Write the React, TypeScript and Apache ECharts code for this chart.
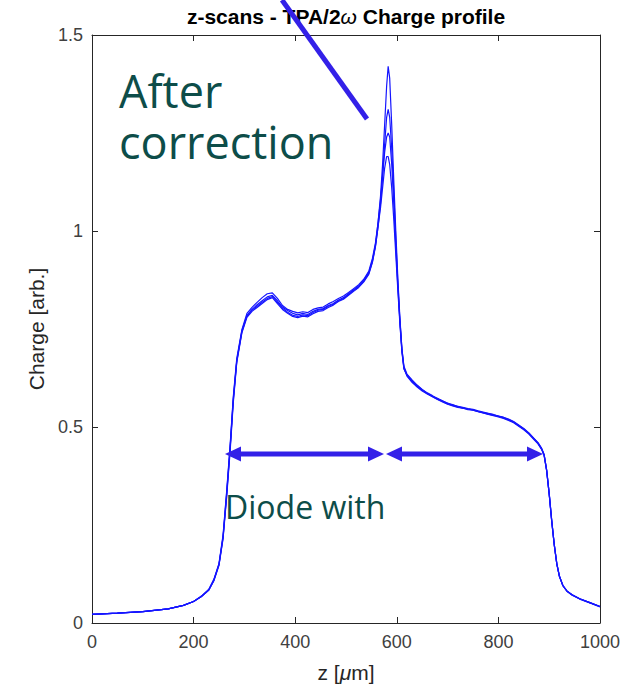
import React, { useEffect, useRef } from "react";
import * as echarts from "echarts";

// z positions (µm) shared by all scans
const zValues = [
  0, 50, 100, 150, 180, 200,
  215, 230, 240, 250, 258, 265, 272, 278, 285,
  295, 305, 315, 325, 335, 345, 355, 365, 375, 385, 395, 405, 415, 425, 435, 445, 455, 465, 475, 485, 495, 505, 515, 525, 535, 545,
  552, 558, 563, 568, 572, 576, 580, 583, 586, 590, 594, 598, 602, 606, 610, 614,
  620, 630, 640, 650, 660, 670, 680, 690, 700, 710, 720, 730, 740, 750, 760, 770, 780, 790, 800, 810, 820, 830, 840, 850, 860, 870,
  878, 885, 890, 895, 900, 905, 910, 915, 920, 927, 935, 945, 960, 980, 1000,
];

const scanA = [
  0.022, 0.025, 0.029, 0.036, 0.045, 0.055,
  0.068, 0.085, 0.11, 0.15, 0.22, 0.33, 0.45, 0.57, 0.67,
  0.745, 0.785, 0.8, 0.812, 0.822, 0.832, 0.836, 0.822, 0.806, 0.797, 0.79, 0.786, 0.79, 0.787, 0.795, 0.8, 0.802, 0.81, 0.815, 0.824, 0.83, 0.84, 0.85, 0.86, 0.874, 0.895,
  0.925, 0.965, 1.02, 1.09, 1.17, 1.27, 1.37, 1.42, 1.39, 1.27, 1.13, 1.0, 0.88, 0.78, 0.7, 0.655,
  0.635, 0.62, 0.607, 0.596, 0.587, 0.58, 0.572, 0.566, 0.561, 0.556, 0.553, 0.55, 0.547, 0.545, 0.541, 0.538, 0.535, 0.532, 0.528, 0.525, 0.52, 0.514, 0.505, 0.496, 0.485, 0.471,
  0.46, 0.446, 0.43, 0.39, 0.33, 0.26, 0.2, 0.15, 0.12, 0.095, 0.081, 0.072, 0.062, 0.052, 0.042,
];

const scanB = [
  0.022, 0.025, 0.029, 0.036, 0.045, 0.055,
  0.067, 0.084, 0.108, 0.147, 0.215, 0.32, 0.44, 0.56, 0.665,
  0.74, 0.78, 0.795, 0.805, 0.815, 0.825, 0.83, 0.815, 0.8, 0.79, 0.782, 0.779, 0.783, 0.781, 0.789, 0.795, 0.797, 0.805, 0.811, 0.82, 0.826, 0.836, 0.846, 0.856, 0.87, 0.89,
  0.92, 0.96, 1.01, 1.07, 1.14, 1.22, 1.29, 1.31, 1.29, 1.21, 1.1, 0.98, 0.87, 0.775, 0.7, 0.652,
  0.632, 0.616, 0.604, 0.594, 0.585, 0.578, 0.571, 0.565, 0.559, 0.555, 0.551, 0.548, 0.546, 0.543, 0.54, 0.536, 0.533, 0.53, 0.527, 0.523, 0.518, 0.512, 0.503, 0.494, 0.483, 0.47,
  0.458, 0.444, 0.428, 0.39, 0.33, 0.262, 0.2, 0.152, 0.12, 0.096, 0.082, 0.072, 0.062, 0.052, 0.042,
];

const scanC = [
  0.022, 0.025, 0.029, 0.036, 0.045, 0.055,
  0.068, 0.086, 0.112, 0.152, 0.225, 0.335, 0.455, 0.575, 0.675,
  0.748, 0.79, 0.805, 0.818, 0.83, 0.84, 0.842, 0.828, 0.81, 0.8, 0.795, 0.791, 0.794, 0.792, 0.8, 0.804, 0.806, 0.814, 0.82, 0.828, 0.834, 0.843, 0.853, 0.863, 0.877, 0.898,
  0.93, 0.97, 1.02, 1.08, 1.14, 1.2, 1.24, 1.25, 1.24, 1.17, 1.07, 0.96, 0.86, 0.77, 0.695, 0.65,
  0.63, 0.614, 0.602, 0.592, 0.584, 0.577, 0.57, 0.564, 0.558, 0.554, 0.55, 0.548, 0.544, 0.543, 0.539, 0.536, 0.532, 0.529, 0.526, 0.522, 0.517, 0.511, 0.502, 0.493, 0.482, 0.468,
  0.457, 0.443, 0.427, 0.388, 0.328, 0.258, 0.198, 0.15, 0.119, 0.095, 0.081, 0.071, 0.061, 0.051, 0.041,
];

const scanD = [
  0.022, 0.025, 0.029, 0.036, 0.045, 0.055,
  0.067, 0.084, 0.109, 0.149, 0.218, 0.325, 0.447, 0.565, 0.668,
  0.742, 0.783, 0.798, 0.808, 0.818, 0.828, 0.833, 0.818, 0.803, 0.793, 0.785, 0.782, 0.786, 0.784, 0.792, 0.798, 0.8, 0.808, 0.813, 0.822, 0.828, 0.838, 0.848, 0.858, 0.872, 0.892,
  0.922, 0.962, 1.01, 1.06, 1.11, 1.16, 1.19, 1.19, 1.17, 1.11, 1.03, 0.94, 0.85, 0.765, 0.692, 0.648,
  0.633, 0.618, 0.605, 0.595, 0.586, 0.579, 0.573, 0.567, 0.56, 0.557, 0.552, 0.549, 0.546, 0.544, 0.54, 0.537, 0.534, 0.531, 0.528, 0.524, 0.519, 0.513, 0.504, 0.495, 0.484, 0.47,
  0.459, 0.445, 0.429, 0.389, 0.329, 0.26, 0.199, 0.151, 0.12, 0.095, 0.081, 0.072, 0.062, 0.052, 0.042,
];

const scans = [scanA, scanB, scanC, scanD];

const xTicks = { min: 0, max: 1000, interval: 200 };
const yTicks = { min: 0, max: 1.5, interval: 0.5 };

const FONT = "'Liberation Sans', Arial, Helvetica, sans-serif";
const NOTE_FONT = "'Open Sans', 'Noto Sans', sans-serif";
const AXIS_COLOR = "#262626";
const LINE_COLOR = "#1515ff";
const ANNOT_BLUE = "#3320e8";
const TEAL = "#0d4d49";

export default function App() {
  const ref = useRef<HTMLDivElement>(null);

  useEffect(() => {
    document.body.style.margin = "0";
    if (!ref.current) return;
    const chart = echarts.init(ref.current, null, { renderer: "svg" });

    const axisCommon = {
      axisLine: { show: true, onZero: false, lineStyle: { color: AXIS_COLOR, width: 1 } },
      axisTick: { show: true, inside: true, length: 6, lineStyle: { color: AXIS_COLOR, width: 1 } },
      splitLine: { show: false },
    };

    const series = scans.map((s) => ({
      type: "line",
      xAxisIndex: 0,
      yAxisIndex: 0,
      data: zValues.slice(0, s.length).map((z, i) => [z, s[i]]),
      symbol: "none",
      showSymbol: false,
      lineStyle: { color: LINE_COLOR, width: 1.2 },
      z: 2,
    }));

    const arrowY = 454;
    const head = (tipX: number, dir: number) => ({
      type: "polygon",
      shape: {
        points: [
          [tipX, arrowY],
          [tipX + dir * 16, arrowY - 7.5],
          [tipX + dir * 16, arrowY + 7.5],
        ],
      },
      style: { fill: ANNOT_BLUE },
      z: 100,
    });
    const shaft = (x1: number, x2: number) => ({
      type: "line",
      shape: { x1, y1: arrowY, x2, y2: arrowY },
      style: { stroke: ANNOT_BLUE, lineWidth: 5 },
      z: 100,
    });

    chart.setOption({
      animation: false,
      backgroundColor: "#ffffff",
      grid: { left: 92, right: 33, top: 35, bottom: 62 },
      xAxis: [
        {
          type: "value",
          position: "bottom",
          ...xTicks,
          ...axisCommon,
          axisLabel: {
            fontSize: 18,
            color: "#404040",
            fontFamily: FONT,
            margin: 10,
            formatter: (v: number) => String(v),
          },
          name: "{a|z [}{m|μ}{a|m]}",
          nameLocation: "middle",
          nameGap: 39,
          nameTextStyle: {
            fontSize: 21,
            color: AXIS_COLOR,
            fontFamily: FONT,
            rich: {
              a: { fontSize: 21, color: AXIS_COLOR, fontFamily: FONT },
              m: { fontSize: 21, color: AXIS_COLOR, fontFamily: FONT, fontStyle: "italic" },
            },
          },
        },
        {
          type: "value",
          position: "top",
          ...xTicks,
          ...axisCommon,
          axisLabel: { show: false },
        },
      ],
      yAxis: [
        {
          type: "value",
          position: "left",
          ...yTicks,
          ...axisCommon,
          axisLabel: {
            fontSize: 18,
            color: "#404040",
            fontFamily: FONT,
            margin: 9,
            formatter: (v: number) => String(v),
          },
          name: "Charge [arb.]",
          nameLocation: "middle",
          nameGap: 44,
          nameTextStyle: { fontSize: 21, color: AXIS_COLOR, fontFamily: FONT },
        },
        {
          type: "value",
          position: "right",
          ...yTicks,
          ...axisCommon,
          axisLabel: { show: false },
        },
      ],
      series,
      graphic: [
        {
          type: "text",
          x: 346,
          y: 16,
          style: {
            text: "{b|z-scans - TPA/2}{w|ω}{b| Charge profile}",
            align: "center",
            verticalAlign: "middle",
            rich: {
              b: { fontSize: 21, fontWeight: "bold", fontFamily: FONT, fill: "#000" },
              w: { fontSize: 21, fontStyle: "italic", fontFamily: FONT, fill: "#000" },
            },
          },
          z: 50,
        },
        {
          type: "line",
          shape: { x1: 282, y1: 0, x2: 367, y2: 119 },
          style: { stroke: ANNOT_BLUE, lineWidth: 5 },
          z: 100,
        },
        shaft(236, 372),
        head(225, 1),
        head(384, -1),
        shaft(398, 532),
        head(386, 1),
        head(543, -1),
        {
          type: "text",
          x: 119,
          y: 116,
          style: {
            text: "After\ncorrection",
            fontSize: 45,
            lineHeight: 51,
            fontFamily: NOTE_FONT,
            fill: TEAL,
            align: "left",
            verticalAlign: "middle",
          },
          z: 100,
        },
        {
          type: "text",
          x: 225,
          y: 506,
          style: {
            text: "Diode with",
            fontSize: 32,
            fontFamily: NOTE_FONT,
            fill: TEAL,
            align: "left",
            verticalAlign: "middle",
          },
          z: 100,
        },
      ],
    });

    return () => chart.dispose();
  }, []);

  return (
    <div
      ref={ref}
      style={{ position: "absolute", left: 0, top: 0, width: 633, height: 688 }}
    />
  );
}
